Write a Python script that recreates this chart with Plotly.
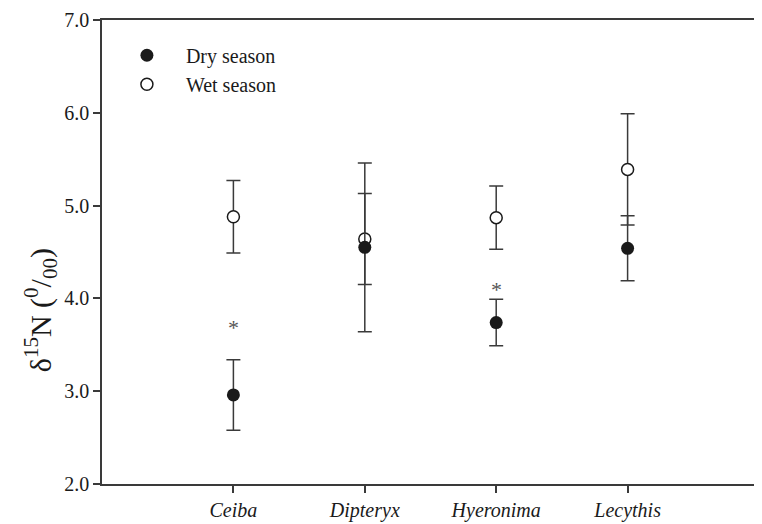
import plotly.graph_objects as go

categories = ["Ceiba", "Dipteryx", "Hyeronima", "Lecythis"]
positions = [1, 2, 3, 4]
dry_mean = [2.96, 4.55, 3.74, 4.54]
dry_err = [0.38, 0.91, 0.25, 0.35]
wet_mean = [4.88, 4.64, 4.87, 5.39]
wet_err = [0.39, 0.49, 0.34, 0.60]
star_pos = [1, 3]
star_y = [3.69, 4.10]

FONT = "Liberation Serif, Times New Roman, serif"
LINE = "#3a3a3a"

fig = go.Figure()
fig.add_trace(go.Scatter(
    x=positions, y=wet_mean, mode="markers", name="Wet season",
    marker=dict(symbol="circle", size=12, color="white",
                line=dict(color="#1a1a1a", width=1.5)),
    error_y=dict(type="data", array=wet_err, visible=True,
                 color=LINE, thickness=1.5, width=7),
    legendrank=2, legendgroup="w",
))
fig.add_trace(go.Scatter(
    x=positions, y=dry_mean, mode="markers", name="Dry season",
    marker=dict(symbol="circle", size=13, color="#1a1a1a",
                line=dict(color="#1a1a1a", width=0)),
    error_y=dict(type="data", array=dry_err, visible=True,
                 color=LINE, thickness=1.5, width=7),
    legendrank=1, legendgroup="d",
))

for xp, yp in zip(star_pos, star_y):
    fig.add_annotation(x=xp, y=yp, text="*", showarrow=False,
                       font=dict(family=FONT, size=22, color="#555"),
                       xanchor="center", yanchor="middle")

# y-axis title sits below the middle of the axis in the reference
fig.add_annotation(text="δ<sup>15</sup>N (<sup>0</sup>/<sub>00</sub>)",
                   xref="paper", yref="paper", x=-0.094, y=0.375,
                   xanchor="center", yanchor="middle", textangle=-90,
                   showarrow=False, font=dict(family=FONT, size=30, color="#1a1a1a"))

# the page body has an 8px margin, so the figure is sized to fit the window
fig.update_layout(
    width=754, height=516,
    margin=dict(l=94, r=1, t=12, b=40),
    paper_bgcolor="white", plot_bgcolor="white",
    font=dict(family=FONT, size=20, color="#1a1a1a"),
    showlegend=True,
    legend=dict(x=0.009, y=0.966, xanchor="left", yanchor="top",
                font=dict(family=FONT, size=20, color="#1a1a1a"),
                bgcolor="rgba(0,0,0,0)", itemwidth=68, tracegroupgap=0),
    xaxis=dict(range=[0, 5], tickvals=positions,
               ticktext=["<i>%s</i>" % c for c in categories],
               showgrid=False, zeroline=False,
               showline=True, linecolor=LINE, linewidth=1.5, mirror=True,
               ticks="outside", ticklen=7, tickcolor=LINE, tickwidth=1.5,
               tickfont=dict(family=FONT, size=20)),
    yaxis=dict(range=[2, 7], tickvals=[2, 3, 4, 5, 6, 7],
               ticktext=["2.0", "3.0", "4.0", "5.0", "6.0", "7.0"],
               showgrid=False, zeroline=False,
               showline=True, linecolor=LINE, linewidth=1.5, mirror=True,
               ticks="outside", ticklen=7, tickcolor=LINE, tickwidth=1.5,
               tickfont=dict(family=FONT, size=20)),
)

fig.write_html("out.html")
